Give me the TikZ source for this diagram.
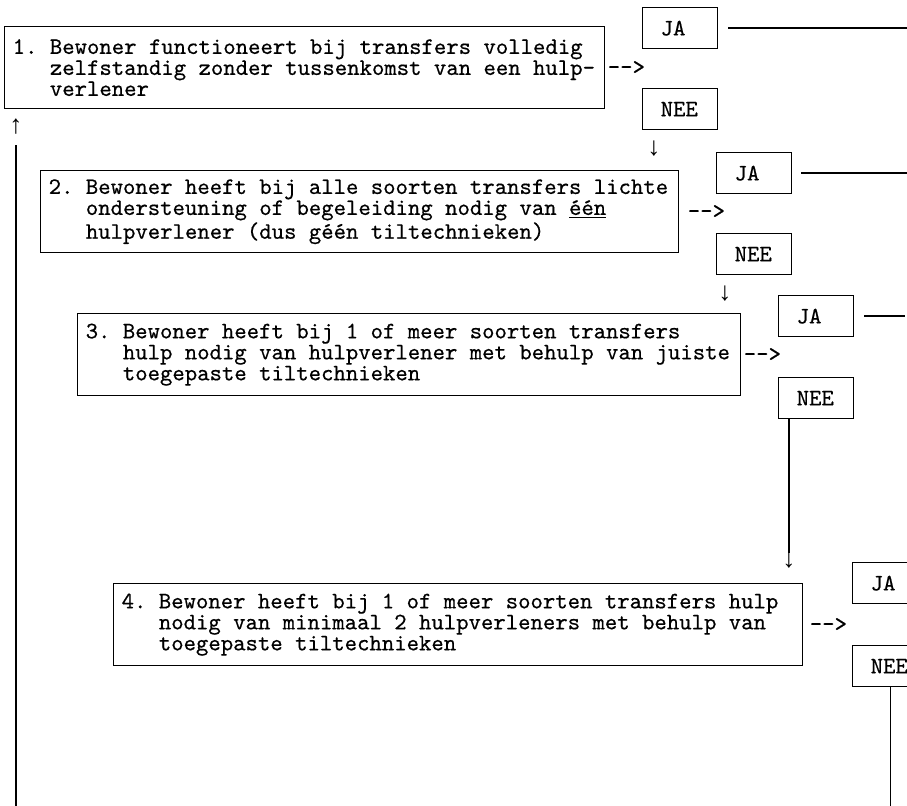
\documentclass[tikz,border=0pt]{standalone}
\usepackage{fontspec}
\newfontfamily\typefont{lmmono10-regular.otf}[FakeBold=0.5]
\newfontfamily\pijlfont{Liberation Mono}
\usetikzlibrary{positioning, calc}

\newcommand{\insp}{\phantom{0.\ }}

\begin{document}
\begin{tikzpicture}[x=0.5pt, y=-0.5pt,
        vraag/.style={rectangle, draw, line width=0.7pt, anchor=north west, minimum height=41pt, inner xsep=4pt, align=left, font={\typefont\fontsize{11.8}{10.5}\selectfont}, execute at begin node={\spaceskip=0.525em\xspaceskip=0.525em\relax}},
        keuze/.style={rectangle, draw, line width=0.7pt, anchor=north west, minimum height=20.5pt, text width=19.5pt, inner xsep=9pt, align=left, font={\typefont\fontsize{11.8}{10.5}\selectfont}},
        teken/.style={inner sep=1pt, font={\typefont\fontsize{11.8}{10.5}\selectfont}},
        pijl/.style={inner sep=0pt, font={\pijlfont\fontsize{13}{13}\selectfont}},
        lijn/.style={line width=0.7pt}%
    ]
        \useasboundingbox (0,0) rectangle (907,806);
        \clip (0,0) rectangle (907,806);

        \node[vraag, text width=292pt] (v1) at (4,26) {1. Bewoner functioneert bij transfers volledig\\\insp zelfstandig zonder tussenkomst van een hulp-\\\insp verlener};
        \node[vraag, text width=311pt] (v2) at (40,170) {2. Bewoner heeft bij alle soorten transfers lichte\\\insp ondersteuning of begeleiding nodig van \underline{één}\\\insp hulpverlener (dus géén tiltechnieken)};
        \node[vraag, text width=323.5pt] (v3) at (77,313) {3. Bewoner heeft bij 1 of meer soorten transfers\\\insp hulp nodig van hulpverlener met behulp van juiste\\\insp toegepaste tiltechnieken};
        \node[vraag, text width=336.5pt] (v4) at (113,583) {4. Bewoner heeft bij 1 of meer soorten transfers hulp\\\insp nodig van minimaal 2 hulpverleners met behulp van\\\insp toegepaste tiltechnieken};

        \node[teken, anchor=west] (g1) at (v1.east) {-{}-{}>};
        \node[teken, anchor=west] (g2) at ([xshift=3pt]v2.east) {-{}-{}>};
        \node[teken, anchor=west] (g3) at (v3.east) {-{}-{}>};
        \node[teken, anchor=west] (g4) at ([xshift=2pt]v4.east) {-{}-{}>};

        \node[keuze] (ja1) at (642,7) {JA};
        \node[keuze] (nee1) at (642,88) {NEE};
        \node[keuze] (ja2) at (716,152) {JA};
        \node[keuze] (nee2) at (716,233) {NEE};
        \node[keuze] (ja3) at (778,295) {JA};
        \node[keuze] (nee3) at (778,377) {NEE};
        \node[keuze] (ja4) at (852,562) {JA};
        \node[keuze] (nee4) at (852,645) {NEE};

        \node[pijl] (p0) at (16,127) {↑};
        \node[pijl] (p1) at (654,149) {↓};
        \node[pijl] (p2) at (725,294) {↓};
        \node[pijl] (p3) at (789,561) {↓};

        \coordinate (rand) at (907,0);
        \coordinate (rand3) at (905,0);
        \coordinate (onder0) at (16,806);
        \coordinate (onder4) at (889,806);

        \draw[lijn] ([xshift=5pt]ja1.east) -- (ja1.east -| rand);
        \draw[lijn] ([xshift=4.5pt]ja2.east) -- (ja2.east -| rand);
        \draw[lijn] ([xshift=5pt]ja3.east) -- (ja3.east -| rand3);

        \draw[lijn] (nee3.south -| p3) -- (p3.north);
        \draw[lijn] (nee4.south) -- (nee4.south |- onder4);
        \draw[lijn] (onder0) -- ([yshift=-5pt]p0.south);
    \end{tikzpicture}
\end{document}
